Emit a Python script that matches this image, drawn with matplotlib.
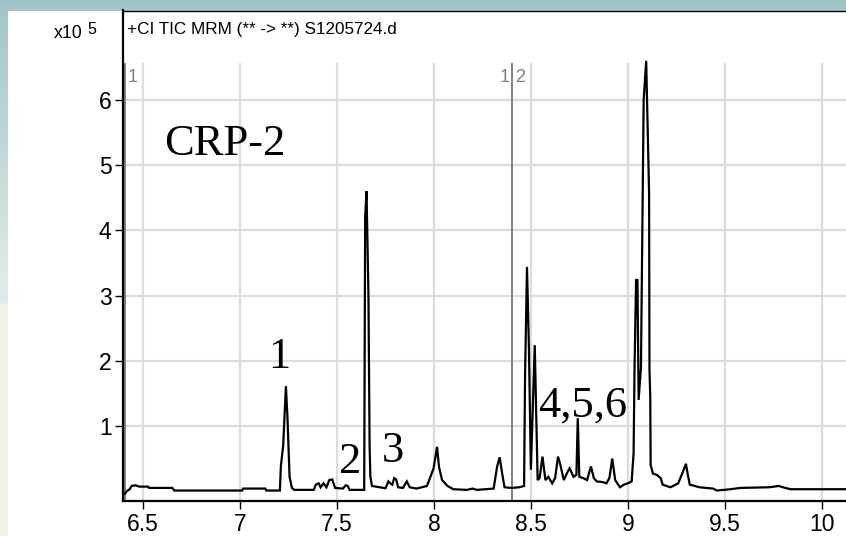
import numpy as np
import matplotlib
matplotlib.use("Agg")
import matplotlib.pyplot as plt
from matplotlib.patches import Rectangle

# ---------- data (abundance in units of 1e5) ----------
rt = [6.405, 6.415, 6.43, 6.44, 6.46, 6.48, 6.525, 6.53, 6.65, 6.66,
      7.01, 7.015, 7.13, 7.135, 7.205, 7.21, 7.222, 7.236, 7.244, 7.255,
      7.267, 7.28, 7.38, 7.39, 7.405, 7.415, 7.43, 7.445, 7.46, 7.475,
      7.49, 7.53, 7.545, 7.555, 7.565, 7.64, 7.645, 7.652, 7.662, 7.668,
      7.672, 7.68, 7.72, 7.75, 7.765, 7.775, 7.785, 7.795, 7.805, 7.815,
      7.84, 7.86, 7.875, 7.91, 7.964, 7.998, 8.016, 8.026, 8.042, 8.07,
      8.10, 8.17, 8.20, 8.22, 8.308, 8.326, 8.339, 8.352, 8.364, 8.40,
      8.44, 8.465, 8.47, 8.48, 8.49, 8.50, 8.52, 8.535, 8.545, 8.56,
      8.575, 8.59, 8.61, 8.625, 8.64, 8.65, 8.67, 8.69, 8.70, 8.72,
      8.735, 8.742, 8.75, 8.77, 8.79, 8.81, 8.825, 8.84, 8.87, 8.89,
      8.905, 8.92, 8.935, 8.96, 8.98, 9.0, 9.02, 9.03, 9.035, 9.043,
      9.05, 9.056, 9.068, 9.082, 9.095, 9.11, 9.112, 9.116, 9.118, 9.13,
      9.15, 9.17, 9.18, 9.22, 9.26, 9.285, 9.30, 9.31, 9.32, 9.37,
      9.44, 9.46, 9.53, 9.58, 9.73, 9.78, 9.80, 9.84, 10.13]
abundance = [-0.04, 0.0, 0.03, 0.08, 0.09, 0.07, 0.07, 0.05, 0.05, 0.01,
             0.01, 0.04, 0.04, 0.01, 0.01, 0.38, 0.70, 1.61, 1.14, 0.22,
             0.05, 0.02, 0.02, 0.10, 0.12, 0.06, 0.12, 0.06, 0.17, 0.18,
             0.05, 0.04, 0.09, 0.08, 0.02, 0.02, 4.20, 4.60, 3.00, 0.68,
             0.22, 0.08, 0.06, 0.045, 0.15, 0.12, 0.10, 0.20, 0.18, 0.06,
             0.05, 0.15, 0.06, 0.04, 0.08, 0.35, 0.68, 0.37, 0.17, 0.08,
             0.03, 0.02, 0.04, 0.02, 0.04, 0.38, 0.52, 0.27, 0.06, 0.05,
             0.06, 0.08, 1.76, 3.44, 2.20, 0.33, 2.24, 0.17, 0.20, 0.53,
             0.17, 0.22, 0.12, 0.20, 0.53, 0.43, 0.17, 0.30, 0.35, 0.22,
             0.25, 1.12, 0.22, 0.20, 0.17, 0.38, 0.20, 0.15, 0.14, 0.12,
             0.20, 0.50, 0.17, 0.06, 0.10, 0.12, 0.15, 0.58, 1.91, 3.24,
             3.24, 1.40, 1.90, 6.00, 6.60, 4.57, 1.86, 1.45, 0.40, 0.27,
             0.25, 0.20, 0.10, 0.06, 0.12, 0.30, 0.42, 0.25, 0.10, 0.06,
             0.04, 0.01, 0.03, 0.05, 0.06, 0.08, 0.06, 0.03, 0.03]

x_ticks = [6.5, 7, 7.5, 8, 8.5, 9, 9.5, 10]
x_tick_labels = ["6.5", "7", "7.5", "8", "8.5", "9", "9.5", "10"]
y_ticks = [1, 2, 3, 4, 5, 6]

peak_labels = ["CRP-2", "1", "2", "3", "4,5,6"]
peak_label_x = [6.61, 7.203, 7.566, 7.79, 8.54]
peak_label_y = [5.16, 1.89, 0.28, 0.44, 1.14]
peak_label_ha = ["left", "center", "center", "center", "left"]

segment_x = [6.405, 8.405]

title_text = "+CI TIC MRM (** -> **) S1205724.d"

# ---------- figure ----------
W, H = 846, 536
fig = plt.figure(figsize=(W / 100, H / 100), dpi=100)

# decorative slide background (teal band on top, gradient strip at left)
bg = fig.add_axes([0, 0, 1, 1], zorder=-10)
stops_y = [0, 10, 140, 285, 298, 306, 536]
stops_c = np.array([[0.60, 0.76, 0.77], [0.64, 0.78, 0.79], [0.74, 0.85, 0.84],
                    [0.88, 0.92, 0.90], [0.85, 0.91, 0.93], [0.95, 0.94, 0.91],
                    [0.95, 0.94, 0.91]])
rows = np.arange(H)
grad = np.stack([np.interp(rows, stops_y, stops_c[:, k]) for k in range(3)], axis=-1)
bg.imshow(grad[:, None, :], aspect="auto", extent=[0, 1, 0, 1], origin="upper")
bg.add_patch(Rectangle((8 / W, 0), 1, 1 - 10.5 / H, transform=bg.transAxes,
                       facecolor="white", edgecolor="none"))
bg.set_xlim(0, 1)
bg.set_ylim(0, 1)
bg.axis("off")

# main chromatogram axes
left_px, bottom_px, top_px = 122.7, 500.7, 10.5
ax = fig.add_axes([left_px / W, (H - bottom_px) / H, 1 - left_px / W, (bottom_px - top_px) / H])
ax.set_facecolor("white")
y_lo, y_hi, y_plot_top = -0.146, 7.373, 6.57
ax.set_xlim(6.394, 10.126)
ax.set_ylim(y_lo, y_hi)

# grid: horizontal full width, vertical only inside the data region
for yv in y_ticks:
    ax.axhline(yv, color="#dcdcdc", lw=1.6, zorder=0)
ax.vlines(x_ticks, y_lo, y_plot_top, color="#dcdcdc", lw=1.6, zorder=0)

# segment markers
ax.vlines(segment_x, y_lo, y_plot_top, color="#808080", lw=1.4, zorder=1)
seg_font = dict(family="Liberation Sans", fontsize=13, color="#808080", va="center")
ax.text(segment_x[0] + 0.012, 6.35, "1", ha="left", **seg_font)
ax.text(segment_x[1] - 0.015, 6.35, "1", ha="right", **seg_font)
ax.text(segment_x[1] + 0.015, 6.35, "2", ha="left", **seg_font)

# trace
ax.plot(rt, abundance, color="black", lw=1.6, zorder=3, solid_joinstyle="miter")

# peak annotations
for lab, lx, ly, ha in zip(peak_labels, peak_label_x, peak_label_y, peak_label_ha):
    ax.text(lx, ly, lab, ha=ha, va="baseline", family="Liberation Serif",
            fontsize=32, color="black", zorder=4)

# header inside the box
ax.text(6.39 + (128 - left_px) / 193.6, 7.38 - (30 - top_px) / 65.2, title_text,
        ha="left", va="center", family="Liberation Sans", fontsize=12.3)

# spines and ticks
ax.spines["right"].set_visible(False)
ax.spines["top"].set_linewidth(1.0)
ax.spines["left"].set_linewidth(1.6)
ax.spines["bottom"].set_linewidth(1.6)
ax.set_xticks(x_ticks)
ax.set_xticklabels(x_tick_labels)
ax.set_yticks(y_ticks)
ax.tick_params(axis="x", length=6, width=1.0, pad=3, labelsize=16.5)
ax.tick_params(axis="y", length=6, width=1.0, pad=2, labelsize=16.5)
for lbl in ax.get_xticklabels() + ax.get_yticklabels():
    lbl.set_family("Liberation Sans")

# y multiplier label
fig.text(54 / W, 1 - 34 / H, "x10", ha="left", va="center", family="Liberation Sans", fontsize=12.8)
fig.text(87 / W, 1 - 29 / H, "5", ha="left", va="center", family="Liberation Sans", fontsize=11.5)

fig.savefig("out.png", dpi=100)
